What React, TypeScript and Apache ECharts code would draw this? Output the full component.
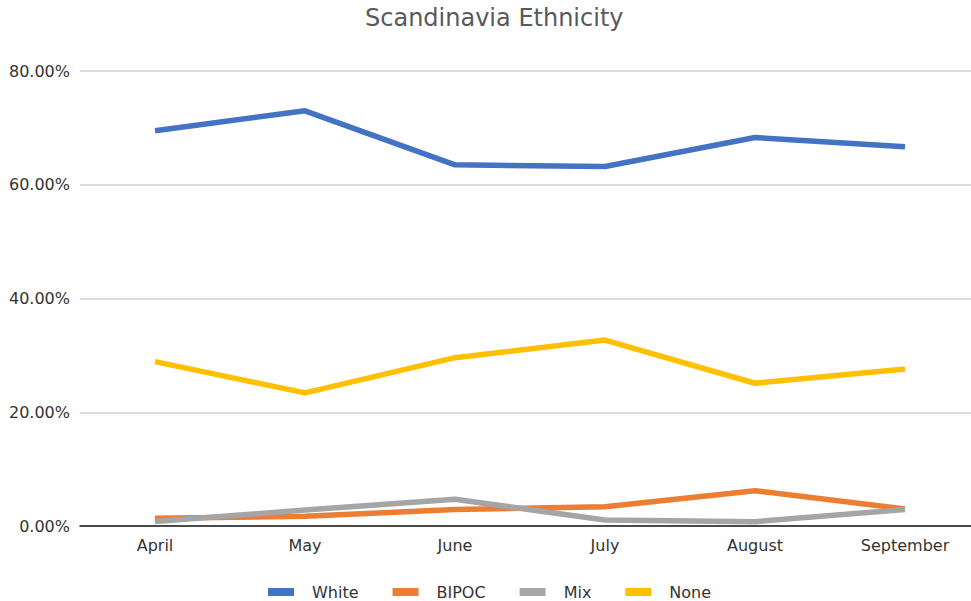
import React, { useEffect, useRef } from "react";
import * as echarts from "echarts";

// Monthly share of respondents by ethnicity group (percent)
const months = ["April", "May", "June", "July", "August", "September"];
const white = [69.5, 73.0, 63.5, 63.2, 68.3, 66.7];
const bipoc = [1.35, 1.7, 2.9, 3.4, 6.2, 3.0];
const mix = [0.8, 2.8, 4.7, 1.05, 0.76, 2.9];
const none = [28.9, 23.4, 29.6, 32.7, 25.1, 27.6];
const yTicks = { min: 0, max: 80, interval: 20 };

const FONT = "DejaVu Sans";

export default function App() {
  const ref = useRef<HTMLDivElement>(null);

  useEffect(() => {
    document.body.style.margin = "0";
    if (!ref.current) return;
    const chart = echarts.init(ref.current, null, { renderer: "svg" });
    const line = (name: string, data: number[], color: string) => ({
      name,
      type: "line",
      data,
      symbol: "none",
      lineStyle: { width: 5.5, color, cap: "butt", join: "round" },
      itemStyle: { color },
    });
    chart.setOption({
      animation: false,
      backgroundColor: "#ffffff",
      textStyle: { fontFamily: FONT },
      title: {
        text: "Scandinavia Ethnicity",
        left: 365,
        top: 6,
        padding: 0,
        textStyle: { fontFamily: FONT, fontSize: 24, fontWeight: "normal", color: "#595959" },
      },
      legend: {
        left: 268,
        top: 583,
        padding: 0,
        itemWidth: 26,
        itemHeight: 8,
        itemGap: 34,
        icon: "rect",
        textStyle: {
          fontFamily: FONT,
          fontSize: 16,
          color: "#333333",
          lineHeight: 18,
          padding: [0, 0, 0, 13],
        },
        data: ["White", "BIPOC", "Mix", "None"],
      },
      // The plot area runs past the right edge of the canvas
      grid: {
        left: 80,
        width: 900,
        top: 71,
        height: 455,
        containLabel: false,
        outerBoundsMode: "none",
      },
      xAxis: {
        type: "category",
        data: months,
        boundaryGap: true,
        axisTick: { show: false },
        axisLine: { lineStyle: { color: "#1a1a1a", width: 1.5 } },
        axisLabel: { fontFamily: FONT, fontSize: 16, color: "#333333", margin: 11 },
      },
      yAxis: {
        type: "value",
        min: yTicks.min,
        max: yTicks.max,
        interval: yTicks.interval,
        axisLine: { show: false },
        axisTick: { show: false },
        splitLine: { lineStyle: { color: "#d0d0d0", width: 1.5 } },
        axisLabel: {
          fontFamily: FONT,
          fontSize: 16,
          color: "#333333",
          margin: 10,
          formatter: (v: number) => v.toFixed(2) + "%",
        },
      },
      series: [
        line("White", white, "#4472C4"),
        line("BIPOC", bipoc, "#ED7D31"),
        line("Mix", mix, "#A5A5A5"),
        line("None", none, "#FFC000"),
      ],
    });
    return () => chart.dispose();
  }, []);

  return <div ref={ref} style={{ width: 971, height: 601 }} />;
}
